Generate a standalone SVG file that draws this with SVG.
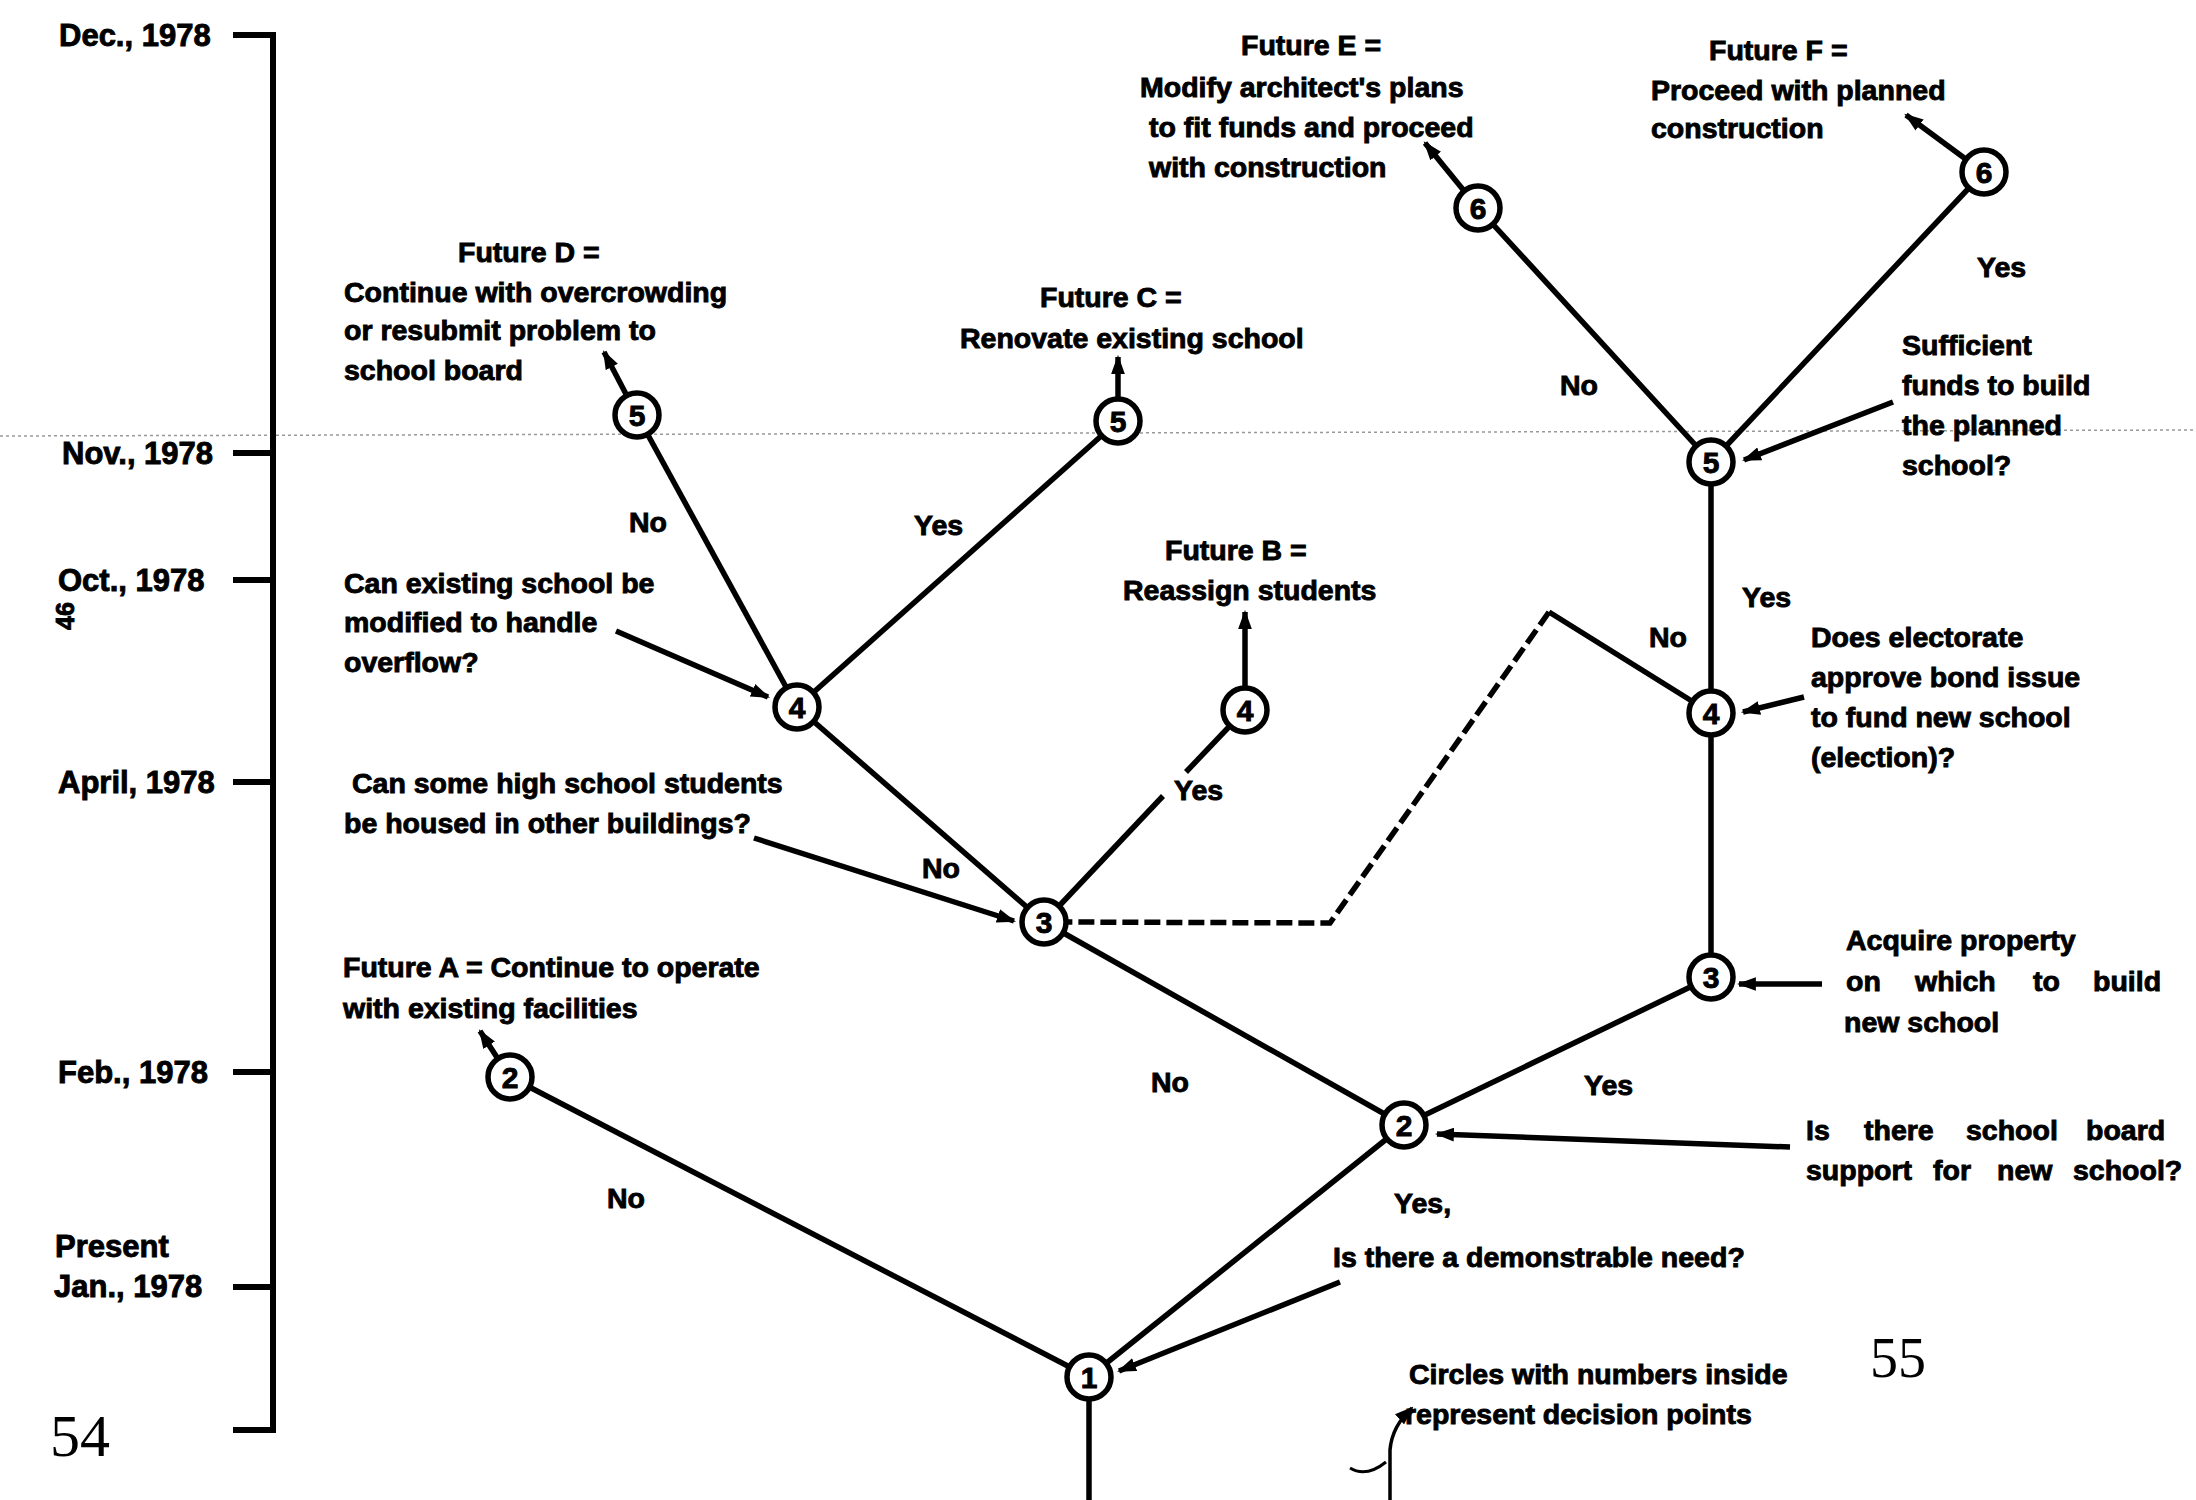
<svg xmlns="http://www.w3.org/2000/svg" width="2196" height="1500" viewBox="0 0 2196 1500">
<style>
.t{font-family:"Liberation Sans",Arial,sans-serif;font-weight:bold;font-size:28.5px;fill:#000;stroke:#000;stroke-width:0.9px}
.d{font-size:31px}
.n{font-size:30px;text-anchor:middle}
.pg{font-family:"Liberation Serif","Times New Roman",serif;font-weight:normal;font-size:60px;fill:#000}
.e{stroke:#000;stroke-width:5.5;fill:none}
.dash{stroke-dasharray:16 6}
.a{marker-end:url(#ah)}
.node circle{fill:#fff;stroke:#000;stroke-width:5.5}
.tl{stroke:#000;stroke-width:6;fill:none}
</style>
<defs>
<marker id="ah" viewBox="0 0 18 13" refX="16" refY="6.5" markerWidth="19" markerHeight="14" markerUnits="userSpaceOnUse" orient="auto">
<path d="M0,0 L18,6.5 L0,13 Z" fill="#000"/>
</marker>
</defs>
<rect width="2196" height="1500" fill="#fff"/>
<line x1="0" y1="436" x2="2196" y2="430" stroke="#999" stroke-width="1.5" stroke-dasharray="3 3"/>

<g id="timeline">
<path class="tl" d="M233,35 H273 V1430 H233 M233,453 H273 M233,580 H273 M233,782 H273 M233,1072 H273 M233,1287 H273"/>
<text class="t d" x="59" y="46">Dec., 1978</text>
<text class="t d" x="62" y="464">Nov., 1978</text>
<text class="t d" x="58" y="591">Oct., 1978</text>
<text class="t d" x="58" y="793">April, 1978</text>
<text class="t d" x="58" y="1083">Feb., 1978</text>
<text class="t d" x="55" y="1257">Present</text>
<text class="t d" x="54" y="1297">Jan., 1978</text>
</g>
<text class="pg" x="50" y="1456">54</text>
<text class="pg" x="1870" y="1377" style="font-size:56px">55</text>
<text class="t" style="font-size:25px" text-anchor="middle" transform="translate(74,616) rotate(-90)">46</text>

<g id="connectors">
<line class="e" x1="1089" y1="1377" x2="1089" y2="1500"/>
<line class="e" x1="1089" y1="1377" x2="510" y2="1077"/>
<line class="e" x1="1089" y1="1377" x2="1404" y2="1125"/>
<line class="e" x1="1404" y1="1125" x2="1044" y2="922"/>
<line class="e" x1="1404" y1="1125" x2="1711" y2="977"/>
<line class="e" x1="1711" y1="977" x2="1711" y2="713"/>
<line class="e" x1="1711" y1="713" x2="1711" y2="462"/>
<line class="e" x1="1711" y1="713" x2="1549" y2="612"/>
<path class="e dash" d="M1549,612 L1330,923 L1066,922"/>
<line class="e" x1="1044" y1="922" x2="797" y2="707"/>
<line class="e" x1="1044" y1="922" x2="1163" y2="796"/>
<line class="e" x1="1186" y1="772" x2="1245" y2="710"/>
<line class="e" x1="797" y1="707" x2="637" y2="415"/>
<line class="e" x1="797" y1="707" x2="1118" y2="421"/>
<line class="e" x1="1711" y1="462" x2="1478" y2="208"/>
<line class="e" x1="1711" y1="462" x2="1984" y2="172"/>
<line class="e a" x1="498" y1="1059" x2="480" y2="1031"/>
<line class="e a" x1="1245" y1="689" x2="1245" y2="612"/>
<line class="e a" x1="627" y1="396" x2="604" y2="352"/>
<line class="e a" x1="1118" y1="400" x2="1118" y2="357"/>
<line class="e a" x1="1465" y1="192" x2="1425" y2="143"/>
<line class="e a" x1="1967" y1="160" x2="1906" y2="115"/>
<line class="e a" x1="1340" y1="1282" x2="1119" y2="1371"/>
<line class="e a" x1="1790" y1="1147" x2="1437" y2="1134"/>
<line class="e a" x1="1822" y1="984" x2="1739" y2="984"/>
<line class="e a" x1="1804" y1="697" x2="1743" y2="712"/>
<line class="e a" x1="1893" y1="402" x2="1744" y2="460"/>
<line class="e a" x1="616" y1="631" x2="768" y2="697"/>
<line class="e a" x1="754" y1="838" x2="1014" y2="921"/>
<path class="e a" style="stroke-width:3.5" d="M1390,1500 L1390,1450 Q1392,1426 1412,1408"/>
<path class="e" style="stroke-width:3" d="M1350,1468 Q1366,1478 1386,1462"/>
</g>

<g id="edge-labels">
<text class="t" x="607" y="1208">No</text>
<text class="t" x="1394" y="1213">Yes,</text>
<text class="t" x="1151" y="1092">No</text>
<text class="t" x="1584" y="1095">Yes</text>
<text class="t" x="922" y="878">No</text>
<text class="t" x="1174" y="800">Yes</text>
<text class="t" x="629" y="532">No</text>
<text class="t" x="914" y="535">Yes</text>
<text class="t" x="1649" y="647">No</text>
<text class="t" x="1742" y="607">Yes</text>
<text class="t" x="1560" y="395">No</text>
<text class="t" x="1977" y="277">Yes</text>
</g>

<g id="node-1" class="node"><circle cx="1089" cy="1377" r="22"/><text class="t n" x="1089" y="1388">1</text></g>
<g id="node-2a" class="node"><circle cx="510" cy="1077" r="22"/><text class="t n" x="510" y="1088">2</text></g>
<g id="node-2" class="node"><circle cx="1404" cy="1125" r="22"/><text class="t n" x="1404" y="1136">2</text></g>
<g id="node-3a" class="node"><circle cx="1044" cy="922" r="22"/><text class="t n" x="1044" y="933">3</text></g>
<g id="node-3b" class="node"><circle cx="1711" cy="977" r="22"/><text class="t n" x="1711" y="988">3</text></g>
<g id="node-4a" class="node"><circle cx="797" cy="707" r="22"/><text class="t n" x="797" y="718">4</text></g>
<g id="node-4b" class="node"><circle cx="1245" cy="710" r="22"/><text class="t n" x="1245" y="721">4</text></g>
<g id="node-4c" class="node"><circle cx="1711" cy="713" r="22"/><text class="t n" x="1711" y="724">4</text></g>
<g id="node-5a" class="node"><circle cx="637" cy="415" r="22"/><text class="t n" x="637" y="426">5</text></g>
<g id="node-5b" class="node"><circle cx="1118" cy="421" r="22"/><text class="t n" x="1118" y="432">5</text></g>
<g id="node-5c" class="node"><circle cx="1711" cy="462" r="22"/><text class="t n" x="1711" y="473">5</text></g>
<g id="node-6a" class="node"><circle cx="1478" cy="208" r="22"/><text class="t n" x="1478" y="219">6</text></g>
<g id="node-6b" class="node"><circle cx="1984" cy="172" r="22"/><text class="t n" x="1984" y="183">6</text></g>

<g id="future-a"><text class="t" x="343" y="977">Future A = Continue to operate</text><text class="t" x="343" y="1018">with existing facilities</text></g>
<g id="future-b"><text class="t" x="1165" y="560">Future B =</text><text class="t" x="1123" y="600">Reassign students</text></g>
<g id="future-c"><text class="t" x="1040" y="307">Future C =</text><text class="t" x="960" y="348">Renovate existing school</text></g>
<g id="future-d"><text class="t" x="458" y="262">Future D =</text><text class="t" x="344" y="302">Continue with overcrowding</text><text class="t" x="344" y="340">or resubmit problem to</text><text class="t" x="344" y="380">school board</text></g>
<g id="future-e"><text class="t" x="1241" y="55">Future E =</text><text class="t" x="1140" y="97">Modify architect's plans</text><text class="t" x="1149" y="137">to fit funds and proceed</text><text class="t" x="1149" y="177">with construction</text></g>
<g id="future-f"><text class="t" x="1709" y="60">Future F =</text><text class="t" x="1651" y="100">Proceed with planned</text><text class="t" x="1651" y="138">construction</text></g>

<g id="q-need"><text class="t" x="1333" y="1267">Is there a demonstrable need?</text></g>
<g id="q-board"><text class="t" y="1140"><tspan x="1806">Is</tspan><tspan x="1864">there</tspan><tspan x="1966">school</tspan><tspan x="2086">board</tspan></text><text class="t" y="1180"><tspan x="1806">support</tspan><tspan x="1933">for</tspan><tspan x="1997">new</tspan><tspan x="2073">school?</tspan></text></g>
<g id="q-acquire"><text class="t" x="1846" y="950">Acquire property</text><text class="t" y="991"><tspan x="1846">on</tspan><tspan x="1915">which</tspan><tspan x="2033">to</tspan><tspan x="2093">build</tspan></text><text class="t" x="1844" y="1032">new school</text></g>
<g id="q-bond"><text class="t" x="1811" y="647">Does electorate</text><text class="t" x="1811" y="687">approve bond issue</text><text class="t" x="1811" y="727">to fund new school</text><text class="t" x="1811" y="767">(election)?</text></g>
<g id="q-funds"><text class="t" x="1902" y="355">Sufficient</text><text class="t" x="1902" y="395">funds to build</text><text class="t" x="1902" y="435">the planned</text><text class="t" x="1902" y="475">school?</text></g>
<g id="q-modify"><text class="t" x="344" y="593">Can existing school be</text><text class="t" x="344" y="632">modified to handle</text><text class="t" x="344" y="672">overflow?</text></g>
<g id="q-house"><text class="t" x="352" y="793">Can some high school students</text><text class="t" x="344" y="833">be housed in other buildings?</text></g>
<g id="legend"><text class="t" x="1409" y="1384">Circles with numbers inside</text><text class="t" x="1405" y="1424">represent decision points</text></g>
</svg>
